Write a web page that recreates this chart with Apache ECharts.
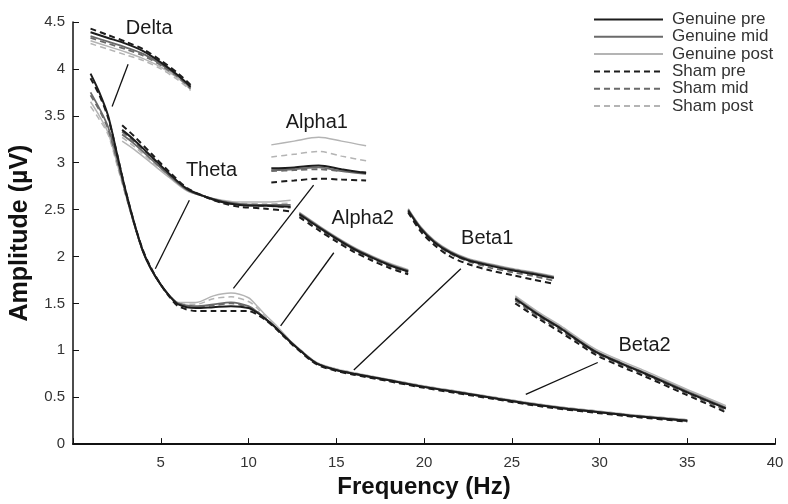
<!DOCTYPE html>
<html><head><meta charset="utf-8">
<script src="https://cdn.jsdelivr.net/npm/echarts@6/dist/echarts.min.js"></script>
<style>html,body{margin:0;padding:0;background:#fff}#c{width:788px;height:504px}</style>
</head><body><div id="c"></div>
<script>
// ---------- DATA ----------
const conditions = ['Genuine pre', 'Genuine mid', 'Genuine post', 'Sham pre', 'Sham mid', 'Sham post'];

// Main spectrum
const mainHz     = [1, 1.5, 2, 2.5, 3, 3.5, 4, 4.5, 5, 5.5, 6, 7, 8, 9, 10, 10.5, 11, 11.5, 12, 12.5, 13, 13.5, 14, 15, 16, 18, 20, 22, 24, 26, 28, 30, 32, 35];
const mainGP     = [3.95, 3.75, 3.5, 3.1, 2.7, 2.35, 2.05, 1.85, 1.7, 1.58, 1.49, 1.45, 1.46, 1.47, 1.45, 1.4, 1.33, 1.25, 1.16, 1.07, 0.99, 0.91, 0.85, 0.79, 0.75, 0.68, 0.61, 0.55, 0.49, 0.43, 0.38, 0.34, 0.3, 0.25];
const mainGM     = [3.75, 3.58, 3.38, 3.05, 2.68, 2.34, 2.05, 1.85, 1.7, 1.58, 1.5, 1.47, 1.49, 1.51, 1.47, 1.41, 1.33, 1.25, 1.16, 1.07, 0.99, 0.91, 0.85, 0.79, 0.75, 0.68, 0.61, 0.55, 0.49, 0.43, 0.38, 0.34, 0.3, 0.25];
const mainGPost  = [3.65, 3.5, 3.32, 3.0, 2.66, 2.33, 2.04, 1.85, 1.7, 1.58, 1.51, 1.51, 1.58, 1.61, 1.56, 1.47, 1.37, 1.28, 1.18, 1.08, 1.0, 0.92, 0.86, 0.8, 0.76, 0.69, 0.62, 0.56, 0.5, 0.44, 0.39, 0.35, 0.31, 0.26];
const mainSP     = [3.9, 3.72, 3.48, 3.1, 2.7, 2.35, 2.06, 1.86, 1.7, 1.57, 1.47, 1.42, 1.42, 1.42, 1.42, 1.38, 1.32, 1.24, 1.15, 1.06, 0.98, 0.9, 0.84, 0.78, 0.74, 0.67, 0.6, 0.54, 0.48, 0.42, 0.37, 0.33, 0.29, 0.24];
const mainSM     = [3.72, 3.56, 3.36, 3.03, 2.67, 2.34, 2.05, 1.85, 1.7, 1.58, 1.5, 1.46, 1.48, 1.5, 1.46, 1.41, 1.33, 1.25, 1.16, 1.07, 0.99, 0.91, 0.85, 0.79, 0.75, 0.68, 0.61, 0.55, 0.49, 0.43, 0.38, 0.34, 0.3, 0.25];
const mainSPost  = [3.6, 3.46, 3.3, 2.98, 2.65, 2.33, 2.04, 1.85, 1.7, 1.58, 1.5, 1.49, 1.55, 1.57, 1.52, 1.45, 1.35, 1.27, 1.17, 1.08, 1.0, 0.92, 0.86, 0.8, 0.76, 0.69, 0.62, 0.56, 0.5, 0.44, 0.39, 0.35, 0.31, 0.26];

// Delta inset
const deltaHz    = [1, 2, 3, 4, 5, 6, 6.7];
const deltaGP    = [4.39, 4.33, 4.27, 4.19, 4.07, 3.93, 3.81];
const deltaGM    = [4.35, 4.29, 4.23, 4.16, 4.05, 3.92, 3.8];
const deltaGPost = [4.3, 4.24, 4.18, 4.11, 4.02, 3.9, 3.78];
const deltaSP    = [4.43, 4.36, 4.29, 4.21, 4.09, 3.95, 3.83];
const deltaSM    = [4.33, 4.27, 4.21, 4.14, 4.04, 3.91, 3.79];
const deltaSPost = [4.27, 4.21, 4.15, 4.09, 4.0, 3.88, 3.77];

// Theta inset
const thetaHz    = [2.8, 3.5, 4.5, 5.5, 6.5, 7.5, 8.5, 9.5, 11, 12.4];
const thetaGP    = [3.35, 3.24, 3.06, 2.88, 2.72, 2.64, 2.58, 2.55, 2.54, 2.53];
const thetaGM    = [3.3, 3.2, 3.03, 2.86, 2.71, 2.64, 2.59, 2.56, 2.55, 2.55];
const thetaGPost = [3.23, 3.14, 2.99, 2.84, 2.7, 2.64, 2.6, 2.58, 2.58, 2.6];
const thetaSP    = [3.4, 3.28, 3.09, 2.9, 2.73, 2.64, 2.57, 2.53, 2.51, 2.48];
const thetaSM    = [3.33, 3.22, 3.05, 2.87, 2.72, 2.64, 2.58, 2.55, 2.54, 2.52];
const thetaSPost = [3.27, 3.17, 3.01, 2.85, 2.71, 2.64, 2.59, 2.57, 2.56, 2.57];

// Alpha1 inset
const alpha1Hz    = [11.3, 12.6, 14, 15.3, 16.7];
const alpha1GP    = [2.94, 2.95, 2.97, 2.93, 2.89];
const alpha1GM    = [2.92, 2.93, 2.95, 2.91, 2.88];
const alpha1GPost = [3.19, 3.23, 3.27, 3.23, 3.18];
const alpha1SP    = [2.79, 2.81, 2.83, 2.82, 2.81];
const alpha1SM    = [2.91, 2.92, 2.93, 2.91, 2.9];
const alpha1SPost = [3.06, 3.09, 3.12, 3.07, 3.02];

// Alpha2 inset
const alpha2Hz    = [12.9, 14, 15, 16, 17, 18, 19.1];
const alpha2GP    = [2.45, 2.31, 2.19, 2.08, 1.99, 1.91, 1.84];
const alpha2GM    = [2.46, 2.32, 2.2, 2.09, 2.0, 1.92, 1.85];
const alpha2GPost = [2.47, 2.33, 2.21, 2.1, 2.01, 1.93, 1.86];
const alpha2SP    = [2.42, 2.28, 2.16, 2.05, 1.96, 1.88, 1.81];
const alpha2SM    = [2.44, 2.3, 2.18, 2.07, 1.98, 1.9, 1.83];
const alpha2SPost = [2.45, 2.32, 2.2, 2.09, 2.0, 1.92, 1.85];

// Beta1 inset
const beta1Hz    = [19.1, 19.8, 20.6, 21.5, 22.5, 23.8, 25.1, 26.3, 27.4];
const beta1GP    = [2.49, 2.3, 2.15, 2.04, 1.96, 1.9, 1.85, 1.81, 1.77];
const beta1GM    = [2.5, 2.31, 2.16, 2.05, 1.97, 1.91, 1.86, 1.82, 1.78];
const beta1GPost = [2.51, 2.32, 2.17, 2.06, 1.98, 1.92, 1.87, 1.83, 1.79];
const beta1SP    = [2.47, 2.27, 2.12, 2.0, 1.92, 1.85, 1.8, 1.75, 1.71];
const beta1SM    = [2.48, 2.29, 2.14, 2.03, 1.95, 1.88, 1.83, 1.79, 1.74];
const beta1SPost = [2.5, 2.31, 2.16, 2.05, 1.97, 1.9, 1.85, 1.81, 1.77];

// Beta2 inset
const beta2Hz    = [25.2, 26.5, 27.8, 28.8, 29.8, 31.2, 32.6, 34.9, 37.2];
const beta2GP    = [1.55, 1.38, 1.23, 1.1, 0.98, 0.86, 0.75, 0.56, 0.38];
const beta2GM    = [1.56, 1.39, 1.24, 1.11, 0.99, 0.87, 0.76, 0.57, 0.39];
const beta2GPost = [1.58, 1.41, 1.26, 1.13, 1.01, 0.89, 0.78, 0.59, 0.41];
const beta2SP    = [1.5, 1.34, 1.19, 1.07, 0.95, 0.83, 0.72, 0.53, 0.34];
const beta2SM    = [1.53, 1.36, 1.21, 1.09, 0.97, 0.85, 0.74, 0.55, 0.36];
const beta2SPost = [1.54, 1.37, 1.22, 1.1, 0.98, 0.86, 0.75, 0.56, 0.37];

// Band labels and connector lines (Hz, µV)
const bandNames   = ['Delta', 'Theta', 'Alpha1', 'Alpha2', 'Beta1', 'Beta2'];
const labelHz     = [4.34, 7.89, 13.89, 16.51, 23.6, 32.57];
const labelAmp    = [4.43, 2.92, 3.43, 2.4, 2.19, 1.05];
const connFromHz  = [3.14, 6.63, 13.71, 14.86, 22.1, 29.9];
const connFromAmp = [4.05, 2.6, 2.76, 2.04, 1.87, 0.87];
const connToHz    = [2.23, 4.69, 9.14, 11.83, 16.0, 25.8];
const connToAmp   = [3.6, 1.87, 1.66, 1.26, 0.79, 0.53];

const xTicks = [0, 5, 10, 15, 20, 25, 30, 35, 40];

// ---------- BUILD ----------
const bands = [
  { hz: mainHz,   v: [mainGP, mainGM, mainGPost, mainSP, mainSM, mainSPost] },
  { hz: deltaHz,  v: [deltaGP, deltaGM, deltaGPost, deltaSP, deltaSM, deltaSPost] },
  { hz: thetaHz,  v: [thetaGP, thetaGM, thetaGPost, thetaSP, thetaSM, thetaSPost] },
  { hz: alpha1Hz, v: [alpha1GP, alpha1GM, alpha1GPost, alpha1SP, alpha1SM, alpha1SPost] },
  { hz: alpha2Hz, v: [alpha2GP, alpha2GM, alpha2GPost, alpha2SP, alpha2SM, alpha2SPost] },
  { hz: beta1Hz,  v: [beta1GP, beta1GM, beta1GPost, beta1SP, beta1SM, beta1SPost] },
  { hz: beta2Hz,  v: [beta2GP, beta2GM, beta2GPost, beta2SP, beta2SM, beta2SPost] }
];
const colors = ['#1c1c1c', '#6a6a6a', '#b4b4b4', '#1c1c1c', '#6a6a6a', '#b4b4b4'];
const widths = [2, 1.8, 1.5, 2, 1.8, 1.5];
const dashed = [false, false, false, true, true, true];
const drawOrder = [2, 5, 1, 4, 0, 3];

const series = [];
bands.forEach(b => {
  drawOrder.forEach(ci => {
    series.push({
      type: 'line', name: conditions[ci],
      data: b.hz.map((h, i) => [h, b.v[ci][i]]),
      smooth: 0.3, symbol: 'none', silent: true,
      color: colors[ci],
      lineStyle: { color: colors[ci], width: widths[ci], type: dashed[ci] ? [6, 4] : 'solid' }
    });
  });
});
bandNames.forEach((n, i) => {
  series.push({
    type: 'line', name: 'conn' + i, symbol: 'none', silent: true,
    data: [[connFromHz[i], connFromAmp[i]], [connToHz[i], connToAmp[i]]],
    lineStyle: { color: '#111', width: 1.3 }, z: 5
  });
});
series.push({
  type: 'scatter', name: 'bandLabels', symbolSize: 0, silent: true,
  itemStyle: { opacity: 1 },
  data: bandNames.map((n, i) => [labelHz[i], labelAmp[i], n]),
  label: { show: true, position: 'inside', formatter: p => p.value[2],
           fontSize: 20, color: '#1a1a1a', opacity: 1, fontFamily: 'Liberation Sans, Arial, sans-serif' }
});

const chart = echarts.init(document.getElementById('c'), null, { renderer: 'canvas' });
chart.setOption({
  animation: false,
  backgroundColor: '#fff',
  textStyle: { fontFamily: 'Liberation Sans, Arial, sans-serif' },
  grid: { left: 73, right: 13, top: 22, bottom: 54, containLabel: false },
  legend: {
    data: conditions, orient: 'vertical', left: 593, top: 11, padding: 0,
    itemWidth: 69, itemHeight: 10, itemGap: 0.3,
    selectedMode: false,
    itemStyle: { opacity: 0 },
    textStyle: { fontSize: 17, color: '#333', lineHeight: 17, padding: [0, 0, 0, 4] }
  },
  xAxis: {
    type: 'value', min: xTicks[0], max: xTicks[xTicks.length - 1], interval: 5,
    name: 'Frequency (Hz)', nameLocation: 'middle', nameGap: 30,
    nameTextStyle: { fontSize: 24, fontWeight: 'bold', color: '#111' },
    axisLine: { lineStyle: { color: '#111', width: 2 } },
    axisTick: { inside: true, length: 6, lineStyle: { color: '#111' } },
    axisLabel: { fontSize: 15, color: '#333', margin: 11, formatter: v => v === 0 ? '' : v },
    splitLine: { show: false }
  },
  yAxis: {
    type: 'value', min: 0, max: 4.5, interval: 0.5,
    name: 'Amplitude (\u00b5V)', nameLocation: 'middle', nameGap: 40,
    nameTextStyle: { fontSize: 25, fontWeight: 'bold', color: '#111' },
    axisLine: { show: true, lineStyle: { color: '#111', width: 1.5 } },
    axisTick: { show: true, inside: true, length: 6, lineStyle: { color: '#111' } },
    axisLabel: { fontSize: 15, color: '#333', margin: 8 },
    splitLine: { show: false }
  },
  series: series
});
</script></body></html>
